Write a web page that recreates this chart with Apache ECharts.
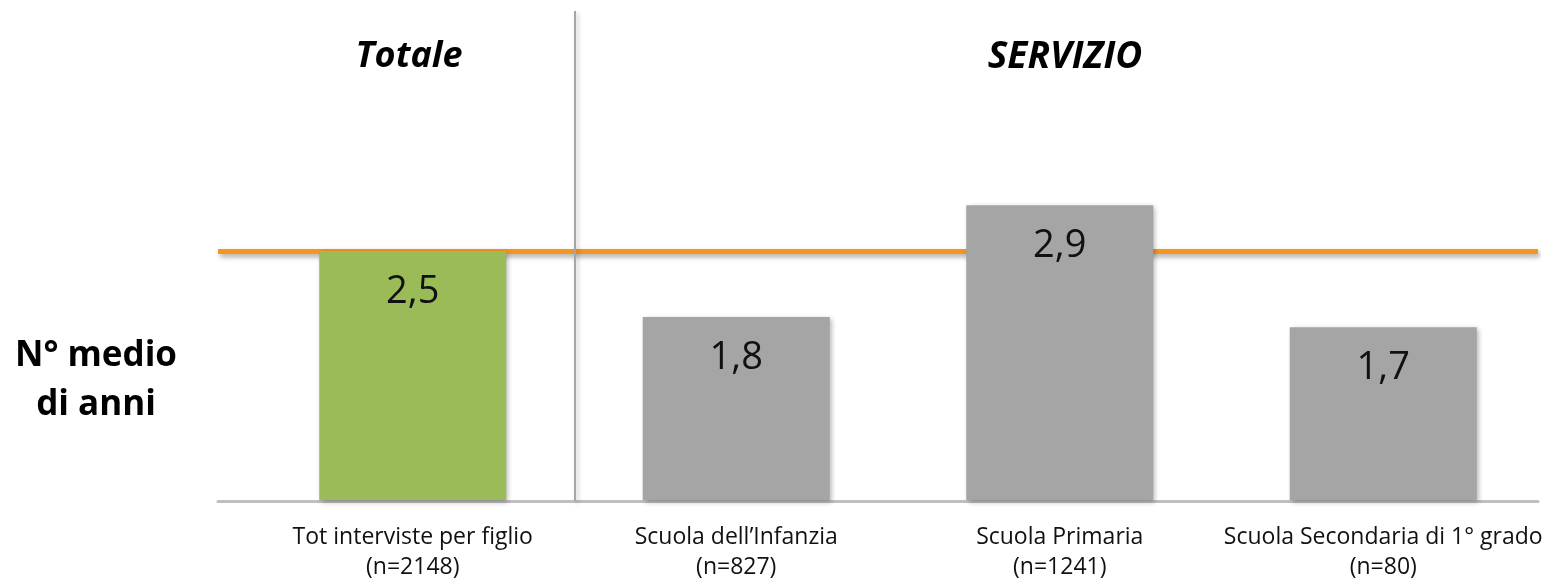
<!DOCTYPE html>
<html>
<head>
<meta charset="utf-8">
<script src="https://cdn.jsdelivr.net/npm/echarts@6/dist/echarts.min.js"></script>
<style>
html,body{margin:0;padding:0;background:#fff;}
#chart{width:1546px;height:582px;}
</style>
</head>
<body>
<div id="chart"></div>
<script>
// ---- data ----
var categories = ['Tot interviste per figlio\n(n=2148)', 'Scuola dell\u2019Infanzia\n(n=827)', 'Scuola Primaria\n(n=1241)', 'Scuola Secondaria di 1\u00b0 grado\n(n=80)'];
var values = [2.45, 1.8, 2.9, 1.7];
var valueLabels = ['2,5', '1,8', '2,9', '1,7'];
var totalMean = 2.45;
var groupTitles = ['Totale', 'SERVIZIO'];
var yTitle = ['N\u00b0 medio', 'di anni'];

var FONT = '"Open Sans", sans-serif';
var chart = echarts.init(document.getElementById('chart'), null, {renderer: 'canvas'});

var barData = values.map(function (v, i) {
  return {
    value: v,
    itemStyle: {color: i === 0 ? '#9BBB59' : '#A5A5A5'},
    label: {formatter: valueLabels[i]}
  };
});

chart.setOption({
  animation: false,
  backgroundColor: '#fff',
  grid: [
    {left: 251, right: 1, top: 2, bottom: 81},
    {left: 218, right: 8, top: 2, bottom: 81}
  ],
  xAxis: [
    {
      type: 'category', gridIndex: 0, data: categories,
      axisLine: {show: false}, axisTick: {show: false},
      axisLabel: {fontFamily: FONT, fontSize: 23, color: '#111', lineHeight: 30, margin: 22, interval: 0}
    },
    {
      type: 'value', gridIndex: 1, min: 0, max: 1,
      axisLine: {show: true, onZero: false, lineStyle: {color: '#BFBFBF', width: 3}},
      axisTick: {show: false}, axisLabel: {show: false}, splitLine: {show: false}
    }
  ],
  yAxis: [
    {type: 'value', gridIndex: 0, min: 0, max: 4.9, show: false, splitLine: {show: false}},
    {type: 'value', gridIndex: 1, min: 0, max: 4.9, show: false, splitLine: {show: false}}
  ],
  series: [
    {
      type: 'line', xAxisIndex: 1, yAxisIndex: 1, z: 1,
      data: [[0, totalMean], [1, totalMean]],
      symbol: 'none',
      lineStyle: {color: '#F7941D', width: 5, shadowColor: 'rgba(0,0,0,0.35)', shadowBlur: 5, shadowOffsetX: 2, shadowOffsetY: 3},
      silent: true
    },
    {
      type: 'bar', xAxisIndex: 0, yAxisIndex: 0, z: 3,
      barWidth: 187,
      data: barData,
      itemStyle: {shadowColor: 'rgba(0,0,0,0.3)', shadowBlur: 5, shadowOffsetX: 2, shadowOffsetY: 2},
      label: {show: true, position: 'insideTop', distance: 22, fontFamily: FONT, fontSize: 38, color: '#111'}
    }
  ],
  graphic: [
    {
      type: 'line', z: 2,
      shape: {x1: 575, y1: 11, x2: 575, y2: 501},
      style: {stroke: '#A6A6A6', lineWidth: 2, shadowColor: 'rgba(0,0,0,0.25)', shadowBlur: 4, shadowOffsetX: 2, shadowOffsetY: 2}
    },
    {
      type: 'text', x: 409, y: 57,
      style: {text: groupTitles[0], font: 'italic bold 36px ' + FONT, fill: '#000', align: 'center', verticalAlign: 'middle'}
    },
    {
      type: 'text', x: 1065, y: 57,
      style: {text: groupTitles[1], font: 'italic bold 37px ' + FONT, fill: '#000', align: 'center', verticalAlign: 'middle'}
    },
    {
      type: 'text', x: 96, y: 356,
      style: {text: yTitle[0], font: 'bold 35px ' + FONT, fill: '#000', align: 'center', verticalAlign: 'middle'}
    },
    {
      type: 'text', x: 96, y: 405,
      style: {text: yTitle[1], font: 'bold 35px ' + FONT, fill: '#000', align: 'center', verticalAlign: 'middle'}
    }
  ]
});
</script>
</body>
</html>
